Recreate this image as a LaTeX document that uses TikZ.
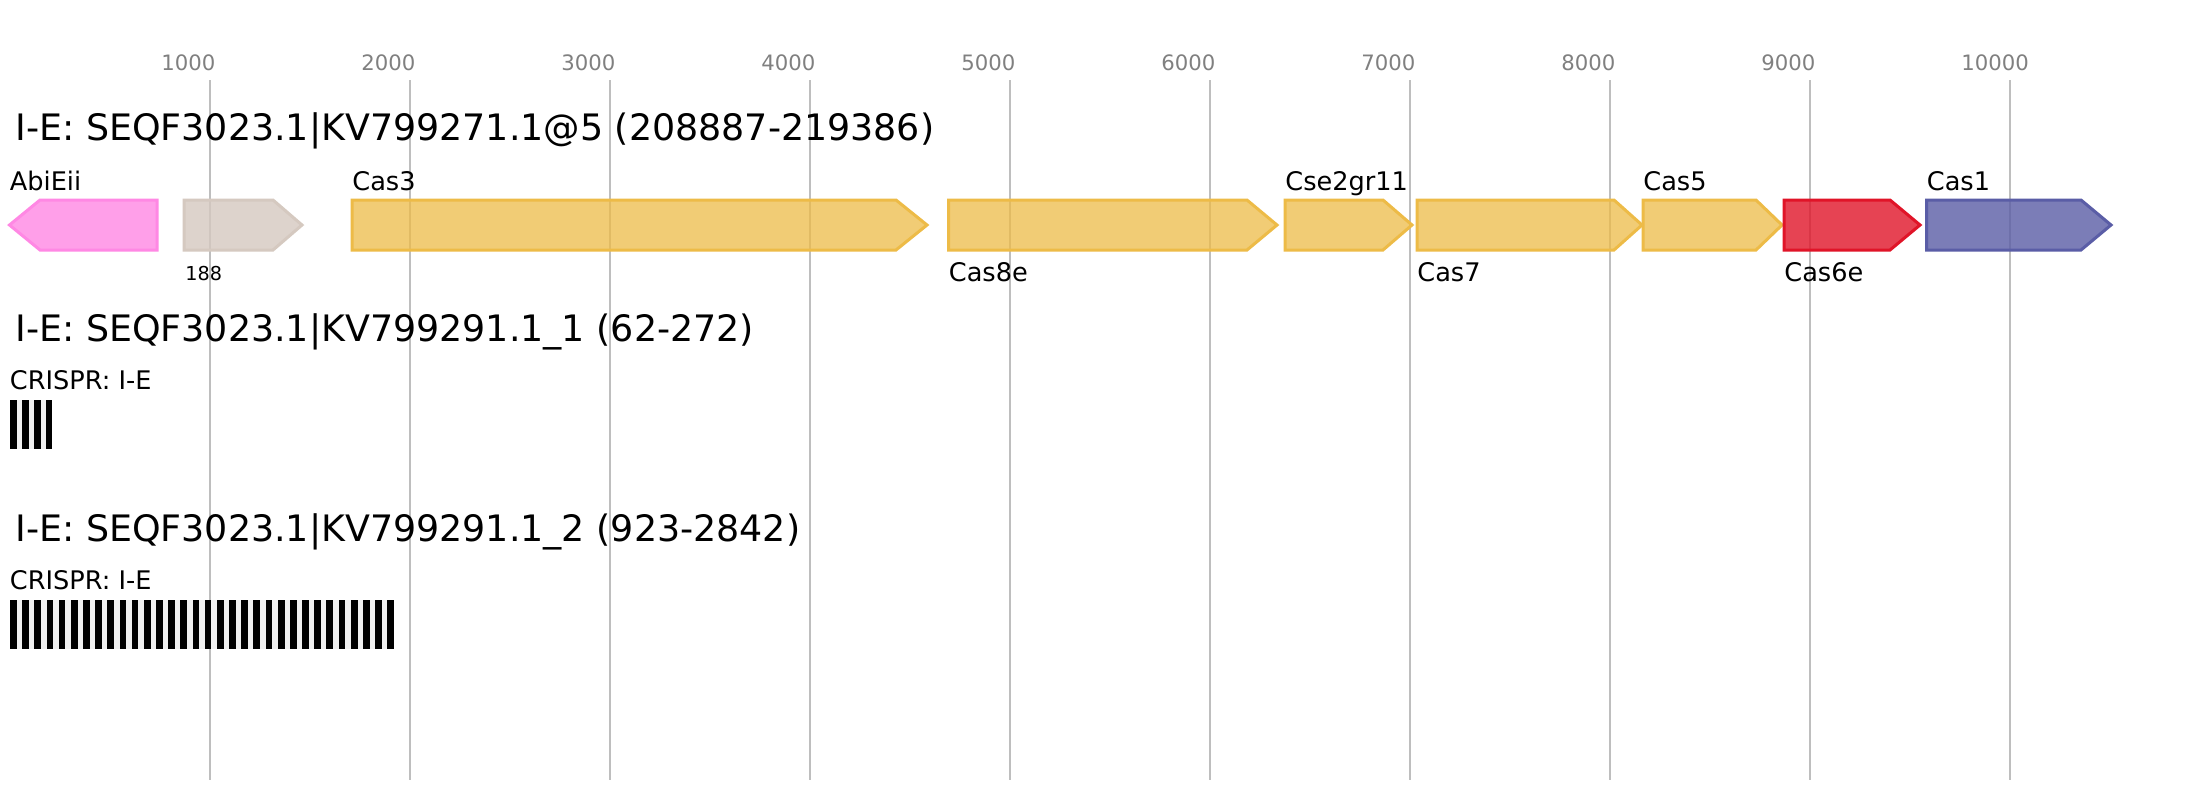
\documentclass[tikz,border=0pt]{standalone}
\usepackage{fontspec}
\setmainfont{DejaVu Sans}
\usepackage{xcolor}
\definecolor{gridGray}{HTML}{BEBEBE}
\definecolor{tickGray}{HTML}{808080}
\definecolor{geneAbi}{HTML}{FF88E4}
\definecolor{geneOther}{HTML}{D5C9C0}
\definecolor{geneCas}{HTML}{EDBB47}
\definecolor{geneCas6}{HTML}{E01428}
\definecolor{geneCas1}{HTML}{5A5DA6}
\definecolor{spacerGray}{HTML}{F0F0F0}

\begin{document}
\begin{tikzpicture}[x=0.5pt, y=-0.5pt]
  \useasboundingbox (0,0) rectangle (2200,800);
  \fill[white] (0,0) rectangle (2200,800);
  \draw[gridGray, line width=1pt] (210,80) -- (210,780);
  \draw[gridGray, line width=1pt] (410,80) -- (410,780);
  \draw[gridGray, line width=1pt] (610,80) -- (610,780);
  \draw[gridGray, line width=1pt] (810,80) -- (810,780);
  \draw[gridGray, line width=1pt] (1010,80) -- (1010,780);
  \draw[gridGray, line width=1pt] (1210,80) -- (1210,780);
  \draw[gridGray, line width=1pt] (1410,80) -- (1410,780);
  \draw[gridGray, line width=1pt] (1610,80) -- (1610,780);
  \draw[gridGray, line width=1pt] (1810,80) -- (1810,780);
  \draw[gridGray, line width=1pt] (2010,80) -- (2010,780);
  \node[anchor=base west, inner sep=0, text=tickGray, font=\fontsize{10.6}{12}\selectfont] (t1) at (161,70) {1000};
  \node[anchor=base west, inner sep=0, text=tickGray, font=\fontsize{10.6}{12}\selectfont] (t2) at (361,70) {2000};
  \node[anchor=base west, inner sep=0, text=tickGray, font=\fontsize{10.6}{12}\selectfont] (t3) at (561,70) {3000};
  \node[anchor=base west, inner sep=0, text=tickGray, font=\fontsize{10.6}{12}\selectfont] (t4) at (761,70) {4000};
  \node[anchor=base west, inner sep=0, text=tickGray, font=\fontsize{10.6}{12}\selectfont] (t5) at (961,70) {5000};
  \node[anchor=base west, inner sep=0, text=tickGray, font=\fontsize{10.6}{12}\selectfont] (t6) at (1161,70) {6000};
  \node[anchor=base west, inner sep=0, text=tickGray, font=\fontsize{10.6}{12}\selectfont] (t7) at (1361,70) {7000};
  \node[anchor=base west, inner sep=0, text=tickGray, font=\fontsize{10.6}{12}\selectfont] (t8) at (1561,70) {8000};
  \node[anchor=base west, inner sep=0, text=tickGray, font=\fontsize{10.6}{12}\selectfont] (t9) at (1761,70) {9000};
  \node[anchor=base west, inner sep=0, text=tickGray, font=\fontsize{10.6}{12}\selectfont] (t10) at (1961,70) {10000};

  \node[anchor=base west, inner sep=0, font=\fontsize{18.2}{20}\selectfont] (title1) at (15,140) {I-E: SEQF3023.1|KV799271.1@5 (208887-219386)};
  \filldraw[draw=geneAbi, fill=geneAbi, fill opacity=0.8, line width=1.5pt] (9.5,225) -- (40,200) -- (157,200) -- (157,250) -- (40,250) -- cycle;
  \filldraw[draw=geneOther, fill=geneOther, fill opacity=0.8, line width=1.5pt] (184,200) -- (273,200) -- (302,225) -- (273,250) -- (184,250) -- cycle;
  \filldraw[draw=geneCas, fill=geneCas, fill opacity=0.75, line width=1.5pt] (352,200) -- (896,200) -- (927,225) -- (896,250) -- (352,250) -- cycle;
  \filldraw[draw=geneCas, fill=geneCas, fill opacity=0.75, line width=1.5pt] (948.5,200) -- (1247,200) -- (1277,225) -- (1247,250) -- (948.5,250) -- cycle;
  \filldraw[draw=geneCas, fill=geneCas, fill opacity=0.75, line width=1.5pt] (1285,200) -- (1383,200) -- (1412,225) -- (1383,250) -- (1285,250) -- cycle;
  \filldraw[draw=geneCas, fill=geneCas, fill opacity=0.75, line width=1.5pt] (1417,200) -- (1614,200) -- (1642,225) -- (1614,250) -- (1417,250) -- cycle;
  \filldraw[draw=geneCas, fill=geneCas, fill opacity=0.75, line width=1.5pt] (1643,200) -- (1756,200) -- (1782,225) -- (1756,250) -- (1643,250) -- cycle;
  \filldraw[draw=geneCas6, fill=geneCas6, fill opacity=0.8, line width=1.5pt] (1784,200) -- (1890,200) -- (1920,225) -- (1890,250) -- (1784,250) -- cycle;
  \filldraw[draw=geneCas1, fill=geneCas1, fill opacity=0.8, line width=1.5pt] (1926.5,200) -- (2081,200) -- (2111,225) -- (2081,250) -- (1926.5,250) -- cycle;
  \node[anchor=base west, inner sep=0, font=\fontsize{12.8}{14}\selectfont] (AbiEii) at (9.5,190) {AbiEii};
  \node[anchor=base west, inner sep=0, font=\fontsize{9.6}{11}\selectfont] (g188) at (185,280) {188};
  \node[anchor=base west, inner sep=0, font=\fontsize{12.8}{14}\selectfont] (Cas3) at (352,190) {Cas3};
  \node[anchor=base west, inner sep=0, font=\fontsize{12.8}{14}\selectfont] (Cas8e) at (948.5,281) {Cas8e};
  \node[anchor=base west, inner sep=0, font=\fontsize{12.8}{14}\selectfont] (Cse2gr11) at (1285,190) {Cse2gr11};
  \node[anchor=base west, inner sep=0, font=\fontsize{12.8}{14}\selectfont] (Cas7) at (1417,281) {Cas7};
  \node[anchor=base west, inner sep=0, font=\fontsize{12.8}{14}\selectfont] (Cas5) at (1643,190) {Cas5};
  \node[anchor=base west, inner sep=0, font=\fontsize{12.8}{14}\selectfont] (Cas6e) at (1784,281) {Cas6e};
  \node[anchor=base west, inner sep=0, font=\fontsize{12.8}{14}\selectfont] (Cas1) at (1926.5,190) {Cas1};

  \node[anchor=base west, inner sep=0, font=\fontsize{18.2}{20}\selectfont] (title2) at (15,341) {I-E: SEQF3023.1|KV799291.1\_1 (62-272)};
  \node[anchor=base west, inner sep=0, font=\fontsize{12.8}{14}\selectfont] (crispr1) at (9.5,389) {CRISPR: I-E};
  \fill[spacerGray] (10,400) rectangle (52.4,449);
  \fill[black] (10,400) rectangle (16.7,449);
  \fill[black] (21.9,400) rectangle (28.6,449);
  \fill[black] (33.8,400) rectangle (40.5,449);
  \fill[black] (45.7,400) rectangle (52.4,449);

  \node[anchor=base west, inner sep=0, font=\fontsize{18.2}{20}\selectfont] (title3) at (15,541) {I-E: SEQF3023.1|KV799291.1\_2 (923-2842)};
  \node[anchor=base west, inner sep=0, font=\fontsize{12.8}{14}\selectfont] (crispr2) at (9.5,589) {CRISPR: I-E};
  \fill[spacerGray] (10,600) rectangle (394,649);
  \fill[black] (10,600) rectangle (16.7,649);
  \fill[black] (22.2,600) rectangle (28.9,649);
  \fill[black] (34.3,600) rectangle (41.0,649);
  \fill[black] (46.5,600) rectangle (53.2,649);
  \fill[black] (58.7,600) rectangle (65.4,649);
  \fill[black] (70.8,600) rectangle (77.5,649);
  \fill[black] (83.0,600) rectangle (89.7,649);
  \fill[black] (95.2,600) rectangle (101.9,649);
  \fill[black] (107.4,600) rectangle (114.1,649);
  \fill[black] (119.5,600) rectangle (126.2,649);
  \fill[black] (131.7,600) rectangle (138.4,649);
  \fill[black] (143.9,600) rectangle (150.6,649);
  \fill[black] (156.0,600) rectangle (162.7,649);
  \fill[black] (168.2,600) rectangle (174.9,649);
  \fill[black] (180.4,600) rectangle (187.1,649);
  \fill[black] (192.6,600) rectangle (199.3,649);
  \fill[black] (204.7,600) rectangle (211.4,649);
  \fill[black] (216.9,600) rectangle (223.6,649);
  \fill[black] (229.1,600) rectangle (235.8,649);
  \fill[black] (241.2,600) rectangle (247.9,649);
  \fill[black] (253.4,600) rectangle (260.1,649);
  \fill[black] (265.6,600) rectangle (272.3,649);
  \fill[black] (277.8,600) rectangle (284.5,649);
  \fill[black] (289.9,600) rectangle (296.6,649);
  \fill[black] (302.1,600) rectangle (308.8,649);
  \fill[black] (314.3,600) rectangle (321.0,649);
  \fill[black] (326.4,600) rectangle (333.1,649);
  \fill[black] (338.6,600) rectangle (345.3,649);
  \fill[black] (350.8,600) rectangle (357.5,649);
  \fill[black] (363.0,600) rectangle (369.7,649);
  \fill[black] (375.1,600) rectangle (381.8,649);
  \fill[black] (387.3,600) rectangle (394.0,649);
\end{tikzpicture}
\end{document}
